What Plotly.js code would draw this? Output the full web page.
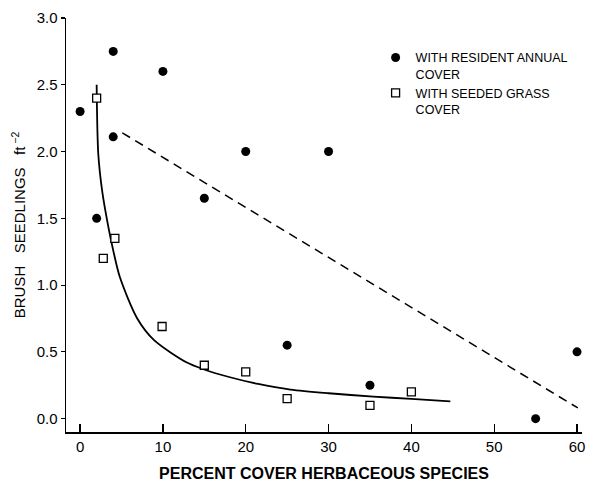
<!DOCTYPE html>
<html>
<head>
<meta charset="utf-8">
<script src="https://cdn.plot.ly/plotly-3.0.1.min.js"></script>
<style>
  html, body { margin: 0; padding: 0; background: #fff; }
  #chart { width: 590px; height: 482px; }
</style>
</head>
<body>
<div id="chart"></div>
<script>
// Resident annual cover (filled circles)
const residentX = [0, 2, 4, 4, 10, 15, 20, 30, 25, 35, 55, 60];
const residentY = [2.30, 1.50, 2.75, 2.11, 2.60, 1.65, 2.00, 2.00, 0.55, 0.25, 0.00, 0.50];

// Seeded grass cover (open squares)
const seededX = [2, 2.8, 4.2, 9.9, 15, 20, 25, 35, 40];
const seededY = [2.40, 1.20, 1.35, 0.69, 0.40, 0.35, 0.15, 0.10, 0.20];

// Dashed fitted line (resident)
const dashX = [5.1, 60.1];
const dashY = [2.14, 0.08];

// Solid fitted curve (seeded)
const curveX = [2.0, 2.2, 2.7, 3.4, 4.0, 4.8, 6.9, 8.9, 12.9, 14.9, 18.1, 21.5, 25.4, 30.0, 35.4, 40.0, 44.7];
const curveY = [2.50, 1.98, 1.69, 1.44, 1.26, 1.06, 0.75, 0.59, 0.42, 0.37, 0.31, 0.26, 0.218, 0.19, 0.165, 0.148, 0.13];

const xTickVals = [0, 10, 20, 30, 40, 50, 60];
const yTickVals = [0.0, 0.5, 1.0, 1.5, 2.0, 2.5, 3.0];
const yTickText = ['0.0', '0.5', '1.0', '1.5', '2.0', '2.5', '3.0'];

const legendResident = 'WITH RESIDENT ANNUAL<br>COVER';
const legendSeeded = 'WITH SEEDED GRASS<br>COVER';

const NB = '\u00A0';
const yTitle = 'BRUSH' + NB + NB + NB + 'SEEDLINGS' + NB + NB + NB + 'ft<sup>' + NB + '−2</sup>';
const xTitle = 'PERCENT COVER HERBACEOUS SPECIES';

const FONT = 'Liberation Sans, Arial, sans-serif';

const traces = [
  { x: dashX, y: dashY, mode: 'lines', showlegend: false, hoverinfo: 'skip',
    line: { color: '#000', width: 1.5, dash: '9px,6px' } },
  { x: curveX, y: curveY, mode: 'lines', showlegend: false, hoverinfo: 'skip',
    line: { color: '#000', width: 1.8, shape: 'spline', smoothing: 0.8 } },
  { x: residentX, y: residentY, mode: 'markers', name: legendResident,
    marker: { symbol: 'circle', size: 9, color: '#000' } },
  { x: seededX, y: seededY, mode: 'markers', name: legendSeeded,
    marker: { symbol: 'square', size: 8, color: '#fff', line: { color: '#000', width: 1.3 } } }
];

const layout = {
  width: 590, height: 482,
  margin: { l: 66, r: 8, t: 18, b: 50 },
  paper_bgcolor: '#fff', plot_bgcolor: '#fff',
  font: { family: FONT, color: '#000', size: 14 },
  showlegend: true,
  legend: {
    x: 0.6, y: 0.94, xanchor: 'left', yanchor: 'top',
    bgcolor: 'rgba(0,0,0,0)', borderwidth: 0,
    font: { family: FONT, size: 12.5, color: '#000' },
    valign: 'top', tracegroupgap: 4
  },
  xaxis: {
    range: [-1.7, 60.6], showgrid: false, zeroline: false,
    showline: true, linecolor: '#000', linewidth: 1.5, mirror: false,
    ticks: 'inside', ticklen: 8, tickwidth: 1.2, tickcolor: '#000',
    tickvals: xTickVals, tickfont: { family: FONT, size: 15 },
    title: { text: xTitle, font: { family: FONT, size: 16, weight: 'bold' }, standoff: 17 }
  },
  yaxis: {
    range: [-0.1, 3.0], showgrid: false, zeroline: false,
    showline: true, linecolor: '#000', linewidth: 1.5, mirror: false,
    ticks: 'outside', ticklen: 4, tickwidth: 1.2, tickcolor: '#000',
    tickvals: yTickVals, ticktext: yTickText, tickfont: { family: FONT, size: 15 },
    title: { text: yTitle, font: { family: FONT, size: 15 }, standoff: 7 }
  }
};

Plotly.newPlot('chart', traces, layout, { staticPlot: true, displayModeBar: false });
</script>
</body>
</html>
